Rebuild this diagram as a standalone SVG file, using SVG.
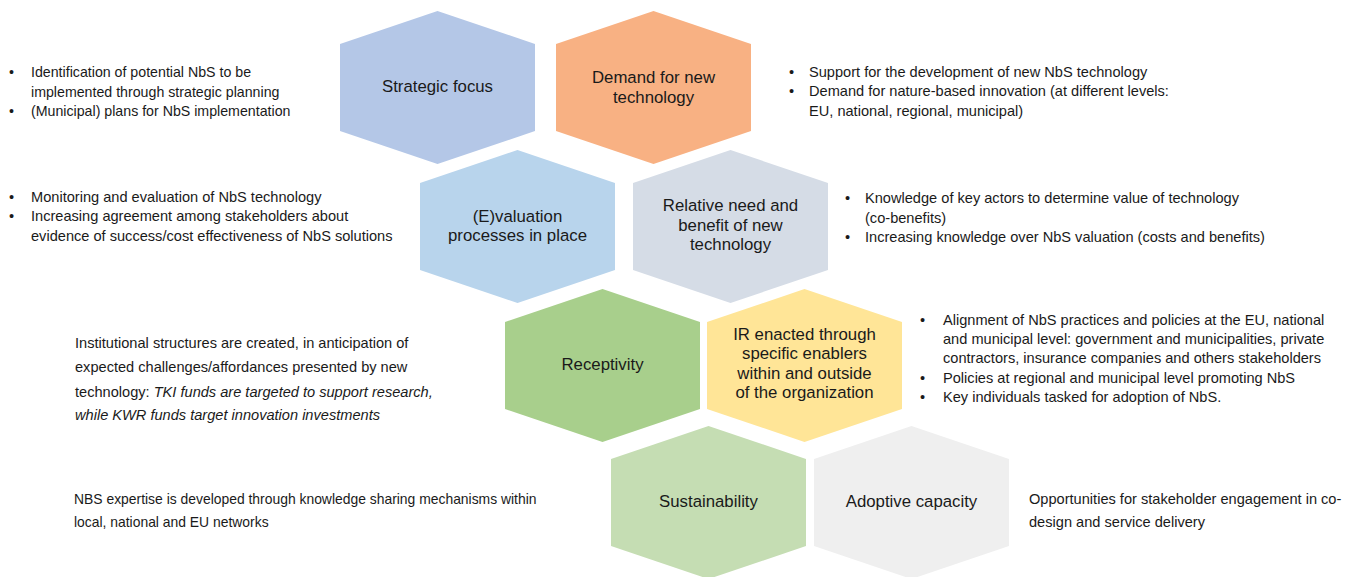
<svg xmlns="http://www.w3.org/2000/svg" width="1353" height="577" viewBox="0 0 1353 577">
<style>
.hl{font-family:"Liberation Sans",Arial,sans-serif;font-size:16.8px;fill:#1a1a1a;text-anchor:middle}
.tx{font-family:"Liberation Sans",Arial,sans-serif;font-size:14.6px;fill:#1a1a1a}
.it{font-style:italic}
</style>
<defs>
<polygon id="hex" points="0,0 97.5,33 97.5,120 0,153 -97.5,120 -97.5,33"/>
</defs>
<rect width="1353" height="577" fill="#ffffff"/>
<g id="connectors"></g>
<g id="n-strategic"><use href="#hex" x="437.5" y="11" fill="#B4C7E7"/><text class="hl" x="437.5" y="92">Strategic focus</text></g>
<g id="n-demand"><use href="#hex" x="653.5" y="11" fill="#F8B183"/><text class="hl" x="653.5" y="83">Demand for new</text><text class="hl" x="653.5" y="103">technology</text></g>
<g id="n-evaluation"><use href="#hex" x="517.5" y="150" fill="#B8D4EC"/><text class="hl" x="517.5" y="222">(E)valuation</text><text class="hl" x="517.5" y="241">processes in place</text></g>
<g id="n-relative"><use href="#hex" x="730.5" y="150" fill="#D5DCE6"/><text class="hl" x="730.5" y="211">Relative need and</text><text class="hl" x="730.5" y="231">benefit of new</text><text class="hl" x="730.5" y="250">technology</text></g>
<g id="n-receptivity"><use href="#hex" x="602.5" y="289" fill="#A8CF8C"/><text class="hl" x="602.5" y="370">Receptivity</text></g>
<g id="n-ir"><use href="#hex" x="804.5" y="289" fill="#FFE597"/><text class="hl" x="804.5" y="340">IR enacted through</text><text class="hl" x="804.5" y="359">specific enablers</text><text class="hl" x="804.5" y="379">within and outside</text><text class="hl" x="804.5" y="398">of the organization</text></g>
<g id="n-sustainability"><use href="#hex" x="708.5" y="426" fill="#C5DDB3"/><text class="hl" x="708.5" y="507">Sustainability</text></g>
<g id="n-adoptive"><use href="#hex" x="911.5" y="426" fill="#EFEFEF"/><text class="hl" x="911.5" y="507">Adoptive capacity</text></g>
<g id="t-strategic" class="tx" style="font-size:14.2px">
<text x="9" y="77">•</text><text x="31" y="77">Identification of potential NbS to be</text>
<text x="31" y="97">implemented through strategic planning</text>
<text x="9" y="116">•</text><text x="31" y="116">(Municipal)  plans for NbS implementation</text>
</g>
<g id="t-demand" class="tx">
<text x="789" y="77">•</text><text x="809" y="77">Support for the development  of new NbS technology</text>
<text x="789" y="96">•</text><text x="809" y="96">Demand for nature-based innovation (at different levels:</text>
<text x="809" y="116">EU, national, regional, municipal)</text>
</g>
<g id="t-evaluation" class="tx">
<text x="9" y="202">•</text><text x="31" y="202">Monitoring and evaluation of NbS technology</text>
<text x="9" y="221">•</text><text x="31" y="221">Increasing agreement among stakeholders about</text>
<text x="31" y="241">evidence of success/cost  effectiveness of NbS solutions</text>
</g>
<g id="t-relative" class="tx">
<text x="845" y="203">•</text><text x="865" y="203">Knowledge of key actors to determine value of technology</text>
<text x="865" y="223">(co-benefits)</text>
<text x="845" y="242">•</text><text x="865" y="242">Increasing knowledge over NbS valuation (costs and benefits)</text>
</g>
<g id="t-receptivity" class="tx">
<text x="75" y="348">Institutional structures are created, in anticipation of</text>
<text x="75" y="372">expected challenges/affordances  presented by new</text>
<text x="75" y="397">technology: <tspan class="it">TKI funds are targeted to support  research,</tspan></text>
<text x="75" y="420" class="it">while KWR funds target innovation investments</text>
</g>
<g id="t-ir" class="tx">
<text x="920" y="325">•</text><text x="943" y="325">Alignment of NbS practices and policies at the EU, national</text>
<text x="943" y="344">and municipal level: government and municipalities, private</text>
<text x="943" y="363">contractors, insurance companies and others stakeholders</text>
<text x="920" y="383">•</text><text x="943" y="383">Policies at regional and municipal level promoting NbS</text>
<text x="920" y="402">•</text><text x="943" y="402">Key individuals tasked for adoption of NbS.</text>
</g>
<g id="t-sustainability" class="tx" style="font-size:13.9px">
<text x="74" y="504">NBS expertise is developed through knowledge  sharing mechanisms  within</text>
<text x="74" y="527">local, national and EU networks</text>
</g>
<g id="t-adoptive" class="tx">
<text x="1029" y="504">Opportunities for stakeholder engagement in co-</text>
<text x="1029" y="527">design and service delivery</text>
</g>
</svg>
